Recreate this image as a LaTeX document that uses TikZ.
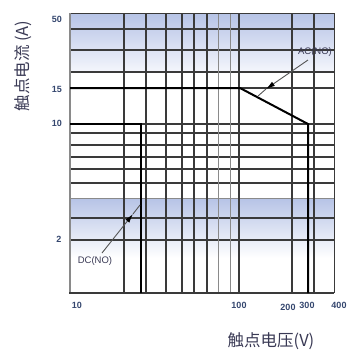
\documentclass[tikz,border=0pt]{standalone}
\usepackage{fontspec}
\setmainfont{Liberation Sans}
\newfontfamily\cjk{Noto Sans CJK SC}
\usetikzlibrary{arrows.meta}
\definecolor{gridc}{HTML}{3A3A3A}
\definecolor{gridl}{HTML}{8A8A8A}
\definecolor{bandtop}{HTML}{B6C3E6}
\definecolor{bandbot}{HTML}{F4F6FC}
\definecolor{tickc}{HTML}{34466E}
\definecolor{titlec}{HTML}{3A3A55}
\definecolor{pointc}{HTML}{555555}
\tikzset{
  gridline/.style={draw=gridc,line width=1.1pt},
  gridlight/.style={draw=gridl,line width=1pt},
  curve/.style={draw=black,line width=2pt},
  ticklab/.style={text=tickc,font=\fontsize{9}{10}\selectfont\bfseries,inner sep=0pt},
  axtitle/.style={text=titlec,font=\cjk\fontsize{16.5}{18}\selectfont,inner sep=0pt},
  tag/.style={text=titlec,font=\fontsize{9.5}{11}\selectfont,inner sep=0pt},
  pointer/.style={draw=pointc,line width=0.9pt},
  tip/.style={-{Latex[length=9pt,width=5pt,fill=black,color=black]}},
}
\begin{document}
\begin{tikzpicture}[x=1pt,y=-1pt]
\useasboundingbox (0,0) rectangle (347,354);
% blue bands
\shade[top color=bandtop,bottom color=bandbot] (70,13) rectangle (334,72);
\shade[top color=bandtop,bottom color=white] (70,198) rectangle (334,258);
% horizontal grid lines
\foreach \yy in {29,50,72,88,124,133,145,157,169,183,218,240}
  \draw[gridline] (70,\yy) -- (334,\yy);
\draw[gridlight] (70,198) -- (334,198);
% vertical grid lines
\foreach \xx in {124,146,166,182,194,207,239,292,314}
  \draw[gridline] (\xx,13) -- (\xx,293);
\foreach \xx in {218,230}
  \draw[gridlight] (\xx,13) -- (\xx,293);
% frame
\draw[draw=gridc,line width=1pt] (70,13) -- (334,13) -- (334,293);
\draw[draw=gridl,line width=2.6pt] (70,13) -- (70,293);
\draw[draw=gridc,line width=1.6pt] (69,293) -- (334,293);
% curves
\coordinate (ac0) at (70,88);
\coordinate (ac1) at (240,88);
\coordinate (ac2) at (308,124);
\coordinate (ac3) at (308,293);
\draw[curve,line join=miter] (ac0) -- (ac1) -- (ac2) -- (ac3);
\coordinate (dc0) at (70,124);
\coordinate (dc1) at (141,124);
\coordinate (dc2) at (141,293);
\draw[curve,line join=miter] (dc0) -- (dc1) -- (dc2);
% y tick labels
\node[ticklab] (y50) at (57,19) {50};
\node[ticklab] (y15) at (57,89) {15};
\node[ticklab] (y10) at (57,123) {10};
\node[ticklab] (y2) at (59,239) {2};
% x tick labels
\node[ticklab] (x10) at (77,305) {10};
\node[ticklab] (x100) at (239,305) {100};
\node[ticklab] (x200) at (288,307) {200};
\node[ticklab] (x300) at (307,305) {300};
\node[ticklab] (x400) at (339,305) {400};
% axis titles
\node[axtitle,rotate=90] (ytitle) at (23,66) {触点电流 (A)};
\node[axtitle] (xtitle) at (271,341) {触点电压(V)};
% tags with pointers
\node[tag] (acl) at (315,52) {AC(NO)};
\coordinate (acs) at (308,60);
\coordinate (act) at (266,89);
\coordinate (ace) at (258,96);
\draw[pointer,tip] (acs) -- (act);
\draw[pointer] (act) -- (ace);
\node[tag] (dcl) at (95,261) {DC(NO)};
\coordinate (dcs) at (102,253);
\coordinate (dct) at (133,214);
\coordinate (dce) at (140,205);
\draw[pointer,tip] (dcs) -- (dct);
\draw[pointer] (dct) -- (dce);
\end{tikzpicture}
\end{document}
